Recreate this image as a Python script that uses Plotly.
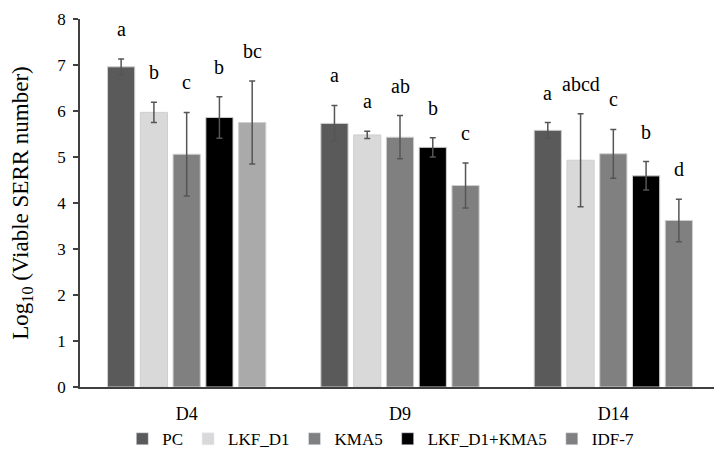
import plotly.graph_objects as go

days = ["D4", "D9", "D14"]
series = ["PC", "LKF_D1", "KMA5", "LKF_D1+KMA5", "IDF-7"]
means = {
    "PC": [6.96, 5.73, 5.58],
    "LKF_D1": [5.97, 5.48, 4.93],
    "KMA5": [5.06, 5.43, 5.07],
    "LKF_D1+KMA5": [5.86, 5.21, 4.59],
    "IDF-7": [5.75, 4.38, 3.62],
}
errors = {
    "PC": [0.17, 0.39, 0.17],
    "LKF_D1": [0.22, 0.08, 1.01],
    "KMA5": [0.91, 0.47, 0.53],
    "LKF_D1+KMA5": [0.45, 0.21, 0.31],
    "IDF-7": [0.90, 0.49, 0.46],
}
letters = {
    "PC": ["a", "a", "a"],
    "LKF_D1": ["b", "a", "abcd"],
    "KMA5": ["c", "ab", "c"],
    "LKF_D1+KMA5": ["b", "b", "b"],
    "IDF-7": ["bc", "c", "d"],
}
colors = {
    "PC": "#5a5a5a",
    "LKF_D1": "#d9d9d9",
    "KMA5": "#808080",
    "LKF_D1+KMA5": "#000000",
    "IDF-7": ["#aaaaaa", "#808080", "#808080"],
}
legend_colors = {
    "PC": "#5a5a5a",
    "LKF_D1": "#d9d9d9",
    "KMA5": "#808080",
    "LKF_D1+KMA5": "#000000",
    "IDF-7": "#808080",
}

font = "Liberation Serif"
fig = go.Figure()
for s in series:
    fig.add_trace(go.Bar(
        name=s, x=days, y=means[s], offsetgroup=s,
        marker=dict(color=colors[s], line=dict(color="#cfcfcf", width=1)),
        error_y=dict(type="data", array=errors[s], visible=True,
                     color="#555555", thickness=1.5, width=3),
        showlegend=False,
    ))
for s in series:
    # legend-only entries sharing the bar's offset group (no extra slot)
    fig.add_trace(go.Bar(
        name=s, x=[None], y=[None], offsetgroup=s,
        marker=dict(color=legend_colors[s]),
        showlegend=True, hoverinfo="skip",
    ))

nb = len(series)
bargap = 0.232
for j, s in enumerate(series):
    for i, d in enumerate(days):
        offset = (j - (nb - 1) / 2) * (1 - bargap) / nb
        fig.add_annotation(
            x=i + offset, y=means[s][i] + errors[s][i], xref="x", yref="y",
            text=letters[s][i], showarrow=False, yshift=30,
            font=dict(family=font, size=20, color="#000000"),
        )

fig.update_layout(
    width=714, height=454,
    margin=dict(l=72, r=2, t=11, b=75, autoexpand=False),
    paper_bgcolor="white", plot_bgcolor="white",
    barmode="group", bargap=bargap, bargroupgap=0.17,
    font=dict(family=font, size=18, color="#000000"),
    legend=dict(orientation="h", x=0.47, xanchor="center", y=-0.093, yanchor="top",
                font=dict(family=font, size=17), itemwidth=30,
                traceorder="normal"),
    showlegend=True,
)
fig.update_xaxes(
    type="category", range=[-0.5, 2.5],
    showline=True, linecolor="#404040", linewidth=1.5,
    ticks="", tickfont=dict(family=font, size=18), ticklabelstandoff=10,
    showgrid=False, zeroline=False,
)
fig.update_yaxes(
    range=[0, 8], dtick=1, tick0=0,
    showline=True, linecolor="#404040", linewidth=1.5,
    ticks="outside", ticklen=5, tickcolor="#404040", tickwidth=1.5,
    tickfont=dict(family=font, size=17), ticklabelstandoff=4,
    ticklabeloverflow="allow",
    showgrid=False, zeroline=False,
    title=dict(text="Log<sub>10</sub> (Viable SERR number)",
               font=dict(family=font, size=23), standoff=30),
)

fig.write_html("out.html")
